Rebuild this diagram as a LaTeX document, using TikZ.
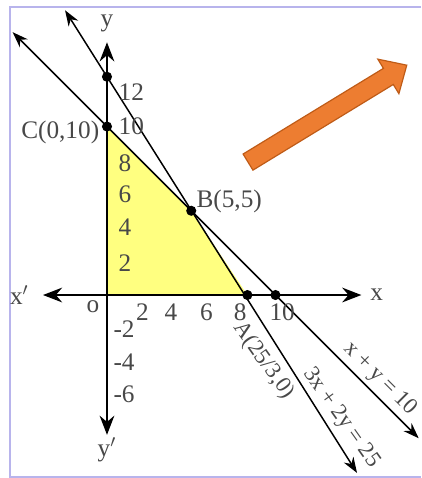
\documentclass[tikz,border=0pt]{standalone}
\usepackage{fontspec}
\setmainfont{Liberation Serif}
\usetikzlibrary{arrows.meta, positioning}
\definecolor{frameblue}{HTML}{B8B4EC}
\definecolor{regionyellow}{HTML}{FFFF80}
\definecolor{labelgray}{HTML}{484848}
\definecolor{arroworange}{HTML}{ED7D31}
\definecolor{arrowedge}{HTML}{BF5B17}

\begin{document}
\begin{tikzpicture}[x=0.3cm, y=0.3cm, font=\fontsize{12.8}{14}\selectfont,
  axis/.style={line width=1.4pt, {Stealth[length=3.4mm,width=2.6mm]}-{Stealth[length=3.4mm,width=2.6mm]}},
  graphline/.style={line width=0.75pt, {Stealth[length=2.8mm,width=2mm]}-{Stealth[length=2.8mm,width=2mm]}},
  dot/.style={circle, fill=black, inner sep=0pt, minimum size=1.8mm},
  lbl/.style={text=labelgray, inner sep=1pt},
  sidelbl/.style={lbl, font=\fontsize{11.5}{13}\selectfont}]
\useasboundingbox (-6.35,-10.86) rectangle (18.64,17.51);

% frame
\draw[frameblue, line width=1pt] (18.64,17.09) -- (-5.76,17.09) -- (-5.76,-10.8) -- (18.64,-10.8);

% feasible region
\fill[regionyellow] (0,0) -- (25/3,0) -- (5,5) -- (0,10) -- cycle;

% end points
\coordinate (xl) at (-3.8,0);
\coordinate (xr) at (15.1,0);
\coordinate (yt) at (0,15);
\coordinate (yb) at (0,-8.3);
\coordinate (p1) at (-5.6,15.6);
\coordinate (p2) at (18.5,-8.5);
\coordinate (q1) at (-2.49,16.9);
\coordinate (q2) at (14.84,-10.56);

% lines x+y=10 and 3x+2y=25
\draw[graphline] (p1) -- (p2);
\draw[graphline] (q1) -- (q2);

% axes
\draw[axis] (xl) -- (xr);
\draw[axis] (yt) -- (yb);

\node[lbl] (xlab) at (16.0,0) {x};
\node[lbl] (xplab) at (-5.2,0) {x$'$};
\node[lbl] (ylab) at (0,16.1) {y};
\node[lbl] (yplab) at (0,-9.2) {y$'$};
\node[lbl] (olab) at (-0.83,-0.7) {o};

% ticks
\foreach \pos/\val in {2.1/2, 3.8/4, 5.9/6, 7.9/8, 10.4/10}
  \node[lbl] at (\pos,-1.0) {\val};
\foreach \pos/\val in {1.9/2, 4.0/4, 6.0/6, 7.8/8, 10.0/10, 12.05/12}
  \node[lbl, anchor=west] at (0.55,\pos) {\val};
\foreach \pos/\val in {-2/-2, -4/-4, -5.9/-6}
  \node[lbl, anchor=west] at (0.25,\pos) {\val};

% corner points
\node[dot] (C) at (0,10) {};
\node[dot] (B) at (5,5) {};
\node[dot] (A) at (25/3,0) {};
\node[dot] (D) at (10,0) {};
\node[dot] (E) at (intersection of q1--q2 and yt--yb) {};

\node[lbl, left=0pt of C, yshift=-0.1cm] (Clab) {C(0,10)};
\node[lbl, anchor=south west, xshift=2pt, yshift=-2pt, inner sep=0.5pt] (Blab) at (B.center) {B(5,5)};
\node[sidelbl, rotate=-54.6] (Alab) at (9.3,-3.9) {A(25/3,0)};
\node[sidelbl, rotate=-54.6] (qlab) at (13.9,-7.3) {3x + 2y = 25};
\node[sidelbl, rotate=-45] (plab) at (16.2,-5.0) {x + y = 10};

% orange arrow
\begin{scope}[shift={(8.37,7.89)}, rotate=31.4]
\filldraw[fill=arroworange, draw=arrowedge, line width=0.6pt]
  (0,-0.56) -- (9.76,-0.56) -- (9.76,-1.2) -- (11.04,0) -- (9.76,1.2) -- (9.76,0.56) -- (0,0.56) -- cycle;
\end{scope}

\end{tikzpicture}
\end{document}
